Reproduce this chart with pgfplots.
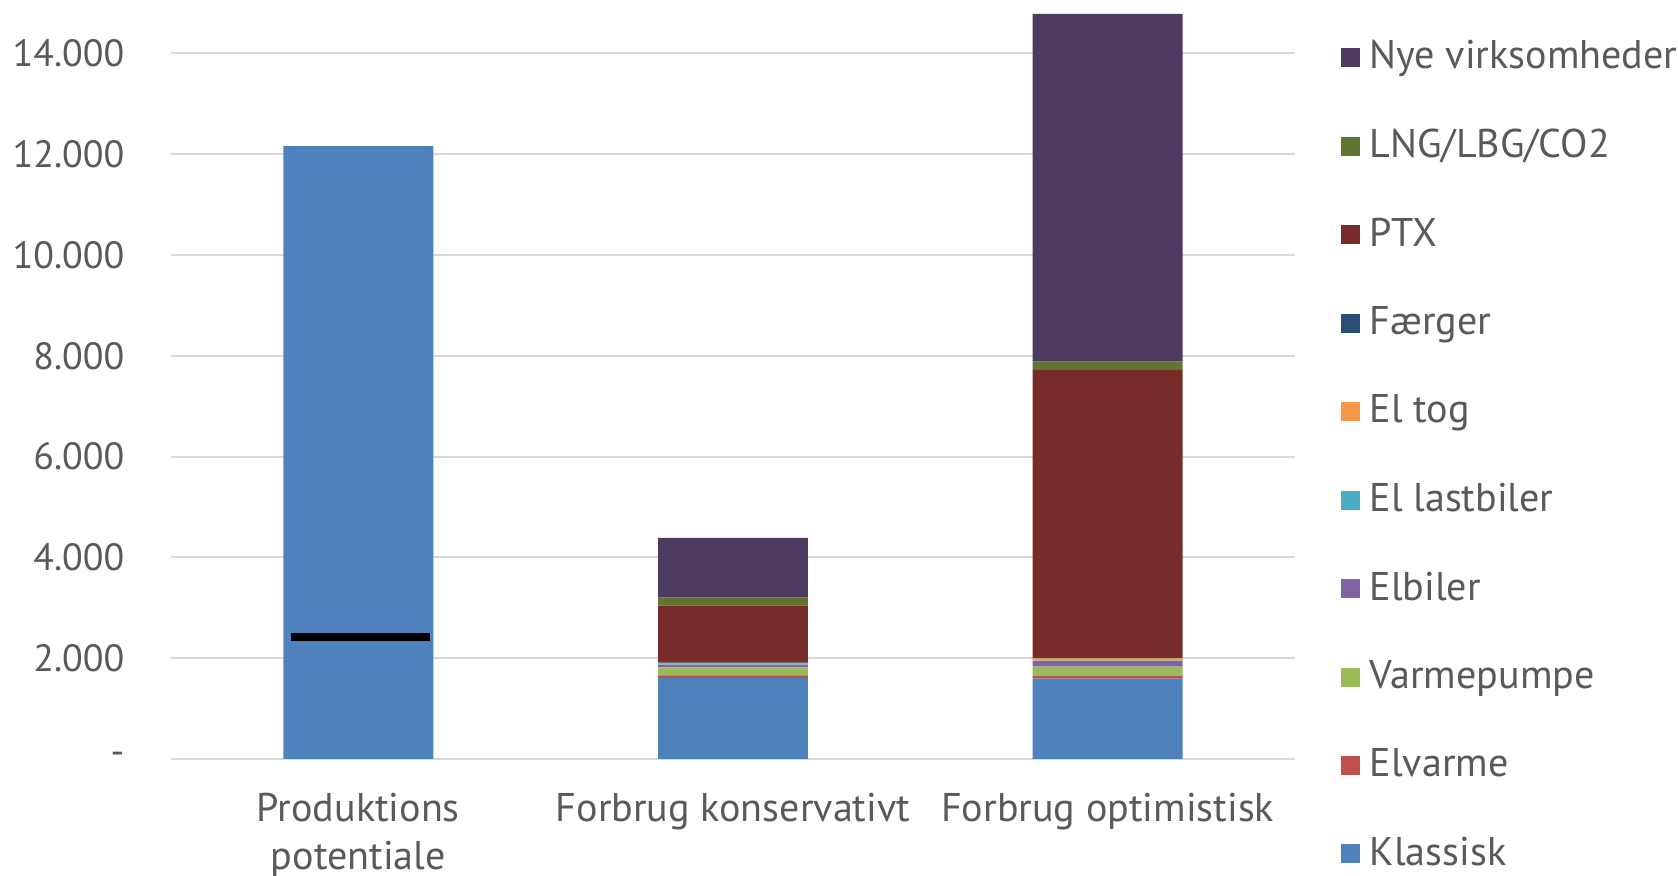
\documentclass[border=0pt]{standalone}
\usepackage{fontspec}
\setmainfont{PT Sans}
\usepackage{pgfplots}
\pgfplotsset{compat=1.18}
\definecolor{txt}{HTML}{595959}
\definecolor{gridc}{HTML}{D9D9D9}
\definecolor{cKlassisk}{HTML}{4F81BD}
\definecolor{cElvarme}{HTML}{C0504D}
\definecolor{cVarme}{HTML}{9BBB59}
\definecolor{cElbiler}{HTML}{8064A2}
\definecolor{cLast}{HTML}{4BACC6}
\definecolor{cTog}{HTML}{F79646}
\definecolor{cFaerger}{HTML}{2C4D75}
\definecolor{cPTX}{HTML}{772C2A}
\definecolor{cLNG}{HTML}{5F7530}
\definecolor{cNye}{HTML}{4D3B62}

\begin{document}
\begin{tikzpicture}[font=\fontsize{11.4pt}{13.5pt}\selectfont]
\path[use as bounding box] (-1.71cm,-1.162cm) rectangle (15.07cm,7.588cm);
\pgfplotsset{
  base/.style={
    scale only axis,
    width=11.24cm, height=7.456cm,
    xmin=-0.5, xmax=2.5,
    ymin=0, ymax=14800,
  },
}
\begin{axis}[
  base,
  ybar stacked,
  bar width=0.4,
  axis line style={draw=none},
  major tick length=0pt,
  xtick={0,1,2},
  xticklabels={{Produktions\\potentiale},{Forbrug konservativt},{Forbrug optimistisk}},
  xticklabel style={align=center, inner sep=0pt, yshift=-3.4mm, text=txt},
  ytick={0,2000,4000,6000,8000,10000,12000,14000},
  yticklabels={{-\hspace{2.7mm}},2.000,4.000,6.000,8.000,10.000,12.000,14.000},
  yticklabel style={inner sep=0pt, xshift=-4.6mm, text=txt,
    font=\fontsize{10.8pt}{13pt}\selectfont},
  ymajorgrids,
  grid style={gridc, line width=0.2mm},
  reverse legend,
  legend cell align=left,
  legend image code/.code={\fill[#1] (0mm,-0.95mm) rectangle (1.9mm,0.95mm);},
  legend style={at={(1.04,1)}, anchor=north west, yshift=-2mm, draw=none, fill=none,
    text=txt, row sep=4.2mm, inner sep=0pt,
    nodes={inner sep=0.65mm},
    /tikz/every odd column/.append style={column sep=0.35mm}},
]
\addplot[fill=cKlassisk, draw=none] coordinates {(0,12160) (1,1600) (2,1590)};
\addplot[fill=cElvarme, draw=none] coordinates {(0,0) (1,54) (2,53)};
\addplot[fill=cVarme, draw=none] coordinates {(0,0) (1,160) (2,185)};
\addplot[fill=cElbiler, draw=none] coordinates {(0,0) (1,50) (2,113)};
\addplot[fill=cLast, draw=none] coordinates {(0,0) (1,10) (2,10)};
\addplot[fill=cTog, draw=none] coordinates {(0,0) (1,25) (2,40)};
\addplot[fill=cFaerger, draw=none] coordinates {(0,0) (1,8) (2,8)};
\addplot[fill=cPTX, draw=none] coordinates {(0,0) (1,1133) (2,5720)};
\addplot[fill=cLNG, draw=none] coordinates {(0,0) (1,160) (2,165)};
\addplot[fill=cNye, draw=none] coordinates {(0,0) (1,1187) (2,6900)};
\legend{Klassisk,Elvarme,Varmepumpe,Elbiler,El lastbiler,El tog,Færger,PTX,LNG/LBG/CO2,Nye virksomheder}
\end{axis}
\begin{axis}[base, hide axis]
\addplot[black, line width=0.8mm] coordinates {(-0.18,2418) (0.19,2418)};
\end{axis}
\end{tikzpicture}
\end{document}
